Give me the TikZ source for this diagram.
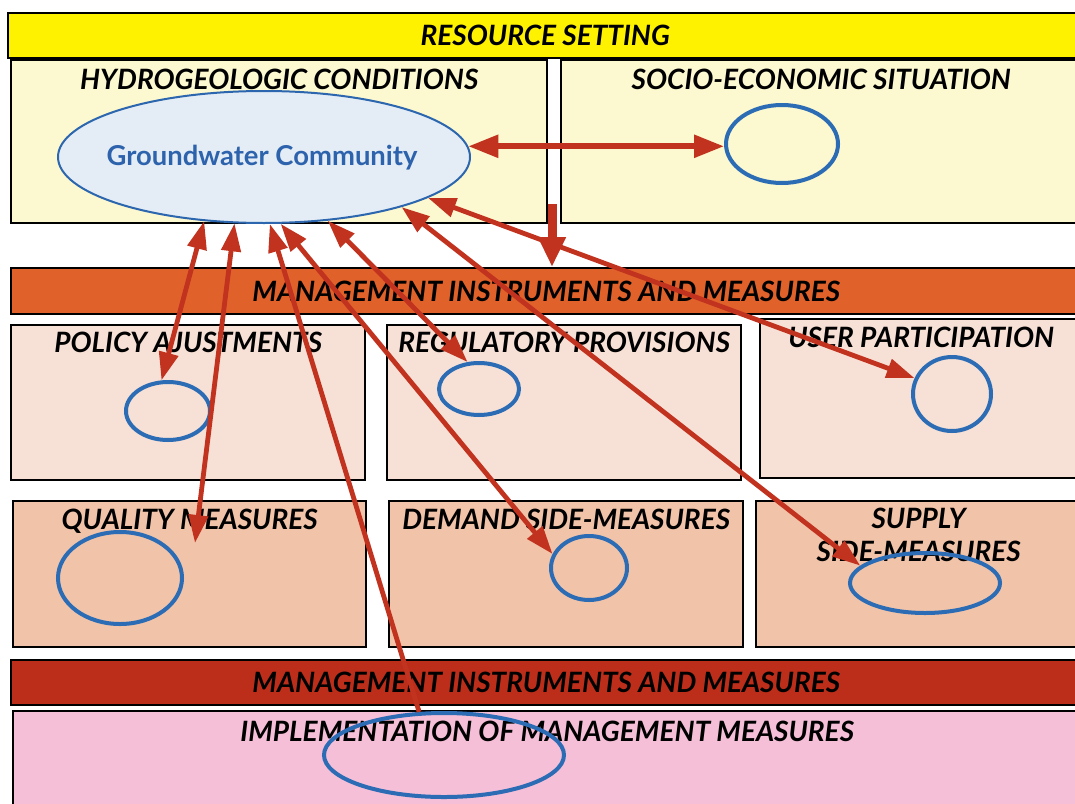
\documentclass[tikz,border=0pt]{standalone}
\usepackage{fontspec}
\setmainfont{Lato}
\usepackage{xcolor}
\usetikzlibrary{arrows.meta,positioning,shapes.geometric}
\definecolor{barYellow}{HTML}{FFF200}
\definecolor{condFill}{HTML}{FCF8D0}
\definecolor{mgmtOrange}{HTML}{E0622A}
\definecolor{rowOne}{HTML}{F7E0D5}
\definecolor{rowTwo}{HTML}{F1C3A9}
\definecolor{mgmtRed}{HTML}{BD2E1A}
\definecolor{implPink}{HTML}{F6BFD8}
\definecolor{gcFill}{HTML}{E4EDF6}
\definecolor{gcBorder}{HTML}{2C66AE}
\definecolor{ringBlue}{HTML}{2B6CB5}
\definecolor{arrowRed}{HTML}{C1321F}
\definecolor{gcText}{HTML}{2D62AC}

\begin{document}
\begin{tikzpicture}[x=0.5pt,y=-0.5pt,font=\fontsize{14}{17}\selectfont\bfseries\itshape,
  >={Triangle[length=14pt,width=9.5pt]},
  box/.style={draw=black,line width=1.2pt,rectangle,anchor=north west,inner sep=0pt},
  ttl/.style={inner sep=0pt,align=center},
  ring/.style={draw=ringBlue,line width=2pt,ellipse,inner sep=0pt},
  link/.style={draw=arrowRed,line width=2.4pt}]
  \clip (0,0) rectangle (1075,803);
  \fill[white] (0,0) rectangle (1075,803);
  \node[box,fill=barYellow,minimum width=537pt,minimum height=22.5pt] (rs) at (7,12) {RESOURCE SETTING};
  \node[box,fill=condFill,minimum width=268pt,minimum height=81.5pt] (hyd) at (10,59) {};
  \node[box,fill=condFill,minimum width=260pt,minimum height=81.5pt] (soc) at (560,59) {};
  \node[ttl,below=5pt of hyd.north] (hydttl) {HYDROGEOLOGIC CONDITIONS};
  \node[ttl,below=5pt of soc.north] (socttl) {SOCIO-ECONOMIC SITUATION};
  \node[ellipse,draw=gcBorder,line width=1pt,fill=gcFill,minimum width=206pt,minimum height=66pt,inner sep=0pt] (gc) at (264,157) {};
  \node[text=gcText,font=\fontsize{13.7}{16}\selectfont\bfseries] (gclbl) at (262,158) {Groundwater Community};
  \node[ring,minimum width=56pt,minimum height=39pt] (socring) at (782,144) {};
  \node[box,fill=mgmtOrange,minimum width=535pt,minimum height=23pt] (mi) at (10,267) {MANAGEMENT INSTRUMENTS AND MEASURES};
  \node[box,fill=rowOne,minimum width=177pt,minimum height=77.5pt] (pa) at (10,324) {};
  \node[box,fill=rowOne,minimum width=177pt,minimum height=77.5pt] (rp) at (386,324) {};
  \node[box,fill=rowOne,minimum width=161pt,minimum height=79.5pt] (up) at (759,318) {};
  \node[ttl,below=4pt of pa.north] (pattl) {POLICY AJUSTMENTS};
  \node[ttl,below=4pt of rp.north] (rpttl) {REGULATORY PROVISIONS};
  \node[ttl,below=4.5pt of up.north] (upttl) {USER PARTICIPATION};
  \node[ring,minimum width=42pt,minimum height=29pt] (paring) at (168,411) {};
  \node[ring,minimum width=40pt,minimum height=26pt] (rpring) at (479,389) {};
  \node[ring,minimum width=39pt,minimum height=37pt] (upring) at (952,394) {};
  \node[box,fill=rowTwo,minimum width=176.5pt,minimum height=73pt] (qm) at (12,500) {};
  \node[box,fill=rowTwo,minimum width=177pt,minimum height=73pt] (ds) at (388,500) {};
  \node[box,fill=rowTwo,minimum width=162.5pt,minimum height=73pt] (ss) at (755,500) {};
  \node[ttl,below=4.5pt of qm.north] (qmttl) {QUALITY MEASURES};
  \node[ttl,below=4.5pt of ds.north] (dsttl) {DEMAND SIDE-MEASURES};
  \node[ttl,below=4pt of ss.north,font=\fontsize{14}{16.5}\selectfont\bfseries\itshape] (ssttl) {SUPPLY\\SIDE-MEASURES};
  \node[ring,minimum width=62pt,minimum height=46pt] (qmring) at (120,578) {};
  \node[ring,minimum width=38pt,minimum height=32pt] (dsring) at (589,568) {};
  \node[ring,minimum width=75pt,minimum height=30pt] (ssring) at (925,583) {};
  \node[box,fill=mgmtRed,minimum width=535pt,minimum height=22.5pt] (mr) at (10,659) {MANAGEMENT INSTRUMENTS AND MEASURES};
  \node[box,fill=implPink,minimum width=534pt,minimum height=50pt] (im) at (12,710) {};
  \node[ttl,below=5.5pt of im.north] (imttl) {IMPLEMENTATION OF MANAGEMENT MEASURES};
  \node[ring,minimum width=120pt,minimum height=42pt] (imring) at (444,755) {};
  \coordinate (gap) at (552,204);
  \coordinate (qtip) at (195,543);
  \draw[link,line width=2.8pt,<->,>={Triangle[length=15pt,width=11pt]}] (gc.3) -- (gc.3 -| socring.west);
  \draw[link,line width=4.5pt,->,>={Triangle[length=15pt,width=13pt]}] (gap) -- (gap |- mi.north);
  \draw[link,<->] (gc.227) -- (paring.102);
  \draw[link,<->] (gc.246) -- (qtip);
  \draw[link,<-] (gc.275) -- (imring.120);
  \draw[link,<->] (gc.284) -- (dsring.159);
  \draw[link,<->] (gc.315) -- (rpring.113);
  \draw[link,<->] (gc.340) -- (ssring.165);
  \draw[link,<->] (gc.346) -- (upring.157);
\end{tikzpicture}
\end{document}
